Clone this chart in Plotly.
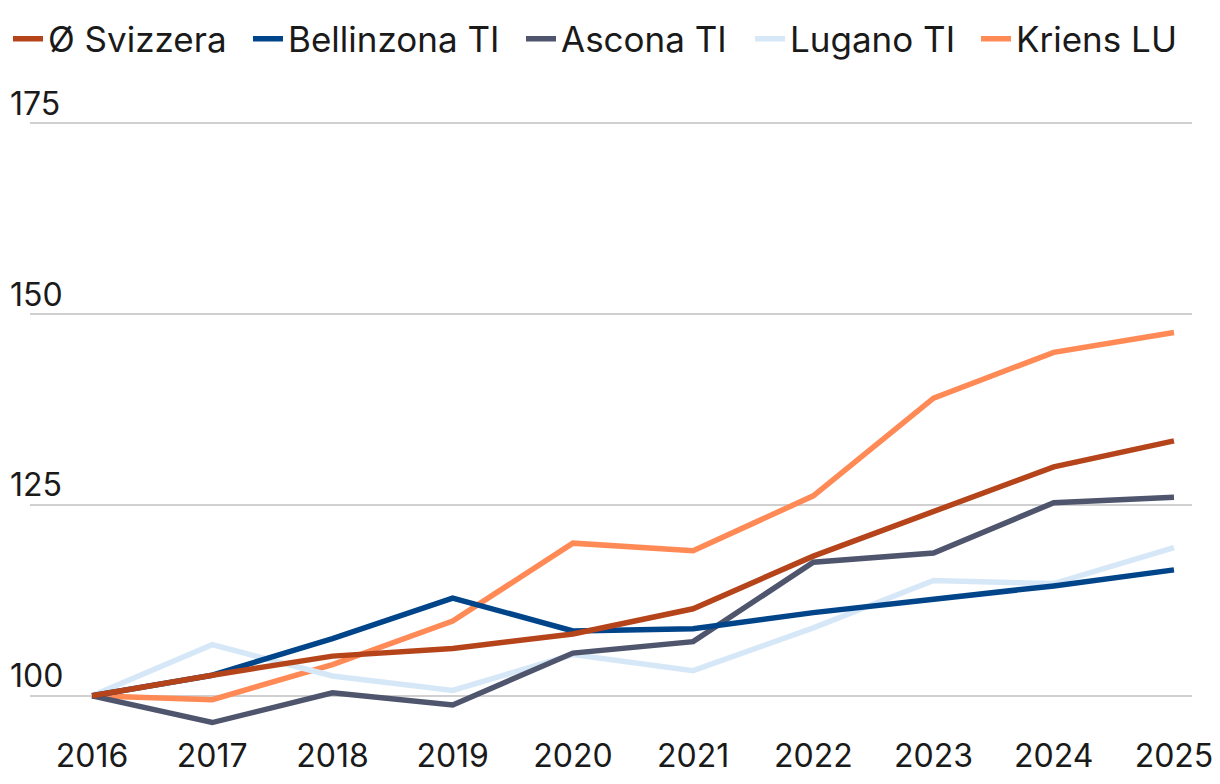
import plotly.graph_objects as go

years = [2016, 2017, 2018, 2019, 2020, 2021, 2022, 2023, 2024, 2025]
svizzera = [100, 102.7, 105.2, 106.2, 108.1, 111.4, 118.3, 124.2, 130.0, 133.4]
bellinzona = [100, 102.7, 107.5, 112.8, 108.5, 108.8, 110.9, 112.7, 114.4, 116.5]
ascona = [100, 96.5, 100.4, 98.8, 105.6, 107.1, 117.5, 118.7, 125.3, 126.0]
lugano = [100, 106.7, 102.6, 100.7, 105.4, 103.3, 108.9, 115.1, 114.7, 119.4]
kriens = [100, 99.5, 104.1, 109.8, 120.0, 119.0, 126.2, 139.0, 145.0, 147.6]
y_ticks = [100, 125, 150, 175]

series = [
    ("Ø Svizzera", svizzera, "#B5441A"),
    ("Bellinzona TI", bellinzona, "#00448A"),
    ("Ascona TI", ascona, "#4E556D"),
    ("Lugano TI", lugano, "#D6E8F7"),
    ("Kriens LU", kriens, "#FF8A55"),
]
legend_px = [0, 240, 513, 742, 968]  # left of each legend entry (figure px)

FONT = "Inter"
W, H = 1220, 784

fig = go.Figure()
legend_layout = {}
for i, (name, vals, col) in reversed(list(enumerate(series))):
    key = "legend" if i == 0 else f"legend{i + 1}"
    fig.add_trace(go.Scatter(
        x=years, y=vals, name=name, mode="lines",
        line=dict(color=col, width=5.5),
        legend=key,
    ))
    legend_layout[key] = dict(
        orientation="h", xref="container", x=legend_px[i] / W, xanchor="left",
        yref="container", y=1 - 31 / H, yanchor="middle",
        font=dict(family=FONT, size=35, color="#1a1a1a"),
        itemwidth=30, bgcolor="rgba(0,0,0,0)",
    )

fig.update_layout(
    width=W, height=H,
    margin=dict(l=22, r=36, t=113, b=58, autoexpand=False),
    paper_bgcolor="white", plot_bgcolor="white",
    font=dict(family=FONT, size=32, color="#1a1a1a"),
    showlegend=True,
    xaxis=dict(range=[2015.484, 2025.15], tickmode="array", tickvals=years,
               ticktext=[str(y) for y in years], showgrid=False, zeroline=False,
               showline=False, ticks="", tickfont=dict(size=32), automargin=False),
    yaxis=dict(range=[95, 175.3], tickmode="array", tickvals=y_ticks,
               showticklabels=False, showgrid=True, gridcolor="#D0D0D0", gridwidth=2,
               zeroline=False, showline=False, ticks="", automargin=False),
    **legend_layout,
)

for t in y_ticks:
    fig.add_annotation(x=-22 / 1162, xref="paper", y=t, yref="y", text=str(t),
                       showarrow=False, xanchor="left", yanchor="middle", yshift=20,
                       font=dict(family=FONT, size=32, color="#1a1a1a"))

fig.write_html("out.html")
